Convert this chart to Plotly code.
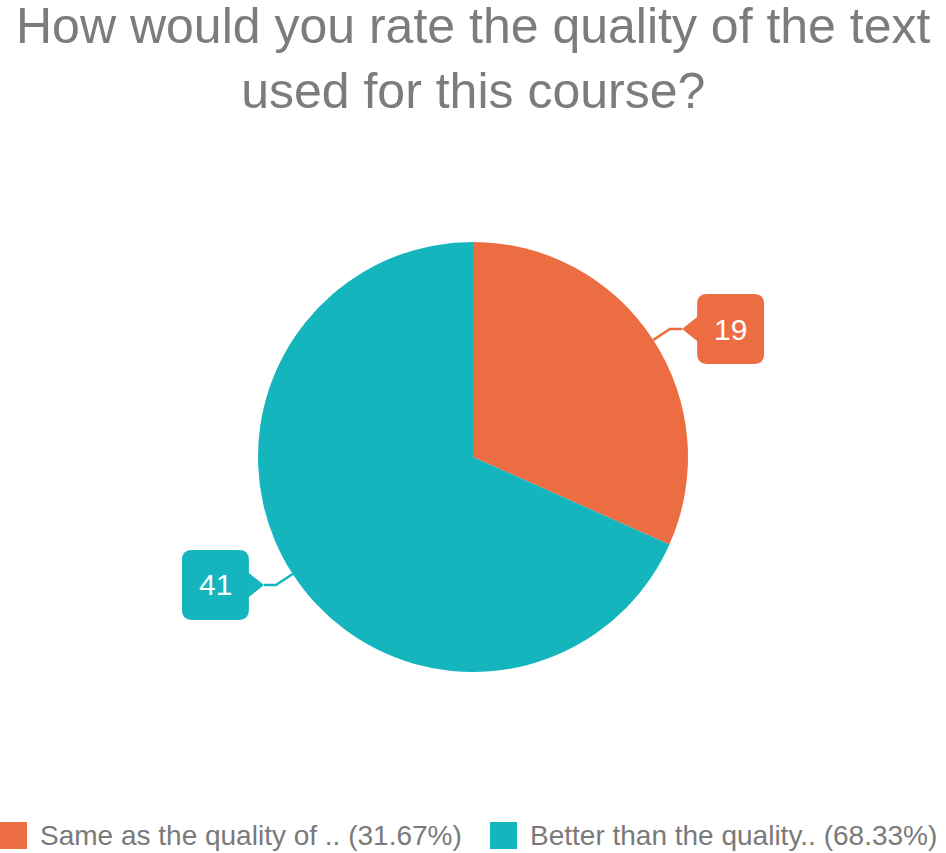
import math
import plotly.graph_objects as go

W, H = 946, 853

title = "How would you rate the quality of the text<br>used for this course?"
labels = ["Same as the quality of ..", "Better than the quality.."]
values = [19, 41]
colors = ["#ED6D43", "#14B5BD"]

# pie geometry in pixels (margins are 0, so paper == page)
cx, cy, r = 473, 457, 215


def px(x):
    return x / W


def py(y):
    return 1 - y / H


def callout_path(tip_x, tip_y, side, bw=67, bh=70, rad=10, notch=15, half=12):
    # rounded box with a pointer; side=+1 box to the right of the tip, -1 to the left
    ex = tip_x + side * notch
    fx = ex + side * bw
    x0, x1 = min(ex, fx), max(ex, fx)
    y0, y1 = tip_y - bh / 2, tip_y + bh / 2
    P = lambda x, y: "{:.4f},{:.4f}".format(px(x), py(y))
    if side > 0:
        pts = ["M" + P(tip_x, tip_y), "L" + P(x0, tip_y - half), "L" + P(x0, y0 + rad),
               "Q" + P(x0, y0) + " " + P(x0 + rad, y0), "L" + P(x1 - rad, y0),
               "Q" + P(x1, y0) + " " + P(x1, y0 + rad), "L" + P(x1, y1 - rad),
               "Q" + P(x1, y1) + " " + P(x1 - rad, y1), "L" + P(x0 + rad, y1),
               "Q" + P(x0, y1) + " " + P(x0, y1 - rad), "L" + P(x0, tip_y + half), "Z"]
    else:
        pts = ["M" + P(tip_x, tip_y), "L" + P(x1, tip_y + half), "L" + P(x1, y1 - rad),
               "Q" + P(x1, y1) + " " + P(x1 - rad, y1), "L" + P(x0 + rad, y1),
               "Q" + P(x0, y1) + " " + P(x0, y1 - rad), "L" + P(x0, y0 + rad),
               "Q" + P(x0, y0) + " " + P(x0 + rad, y0), "L" + P(x1 - rad, y0),
               "Q" + P(x1, y0) + " " + P(x1, y0 + rad), "L" + P(x1, tip_y - half), "Z"]
    return " ".join(pts), (x0 + x1) / 2


fig = go.Figure()
fig.add_trace(go.Pie(labels=labels, values=values, sort=False, direction="clockwise", rotation=0,
                     marker=dict(colors=colors, line=dict(width=0)), textinfo="none", hoverinfo="label+value",
                     domain=dict(x=[px(cx - r), px(cx + r)], y=[py(cy + r), py(cy - r)]), showlegend=False))

shapes = []
annotations = []
total = sum(values)
start = 0
for i, v in enumerate(values):
    mid = (start + v / 2) / total * 2 * math.pi
    start += v
    dx, dy = math.sin(mid), -math.cos(mid)
    ax, ay = cx + r * dx, cy + r * dy
    ex, ey = ax + 20 * dx, ay + 20 * dy
    side = 1 if dx >= 0 else -1
    tx = ex + side * 12
    shapes.append(dict(type="path", xref="paper", yref="paper",
                       path="M{:.4f},{:.4f} L{:.4f},{:.4f} L{:.4f},{:.4f}".format(px(ax), py(ay), px(ex), py(ey), px(tx), py(ey)),
                       line=dict(color=colors[i], width=2.5)))
    path, bx = callout_path(tx, ey, side)
    shapes.append(dict(type="path", xref="paper", yref="paper", path=path,
                       fillcolor=colors[i], line=dict(width=0)))
    annotations.append(dict(x=px(bx), y=py(ey), xref="paper", yref="paper", xanchor="center", yanchor="middle",
                            text=str(v), showarrow=False, font=dict(size=30, color="white")))

# legend drawn by hand to get the large square swatches
leg_x = [0, 490]
for i, v in enumerate(values):
    x0 = leg_x[i]
    shapes.append(dict(type="rect", xref="paper", yref="paper", x0=px(x0), x1=px(x0 + 27),
                       y0=py(849), y1=py(822), fillcolor=colors[i], line=dict(width=0)))
    annotations.append(dict(x=px(x0 + 38), y=py(835), xref="paper", yref="paper", xanchor="left", yanchor="middle",
                            text="{} ({:.2f}%)".format(labels[i], v / total * 100), showarrow=False,
                            font=dict(size=28, color="#7a7a7a")))

annotations.append(dict(x=px(473), y=py(-4), xref="paper", yref="paper", xanchor="center", yanchor="top",
                        text=title, showarrow=False, font=dict(size=50, color="#7c7c7c")))

fig.update_layout(width=W, height=H, margin=dict(l=0, r=0, t=0, b=0), paper_bgcolor="white",
                  plot_bgcolor="white", font_family="Liberation Sans", shapes=shapes, annotations=annotations)
fig.write_html("out.html", config={"displayModeBar": False},
               post_script="document.body.style.margin='0px';")
